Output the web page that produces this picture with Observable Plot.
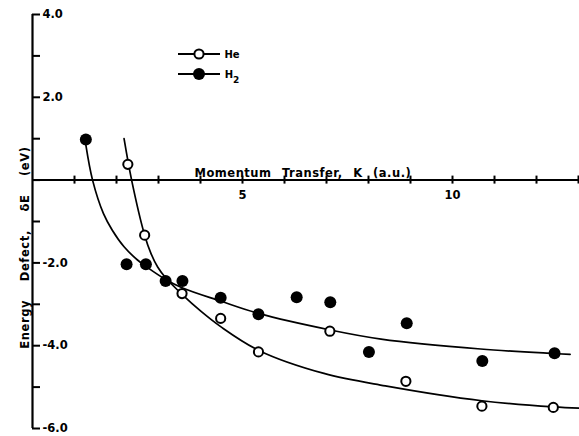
<!DOCTYPE html>
<html><head><meta charset="utf-8">
<script src="https://cdn.jsdelivr.net/npm/d3@7"></script>
<script src="https://cdn.jsdelivr.net/npm/@observablehq/plot@0.6"></script>
<style>
body{margin:0;background:#fff}
#chart{width:579px;height:436px}
svg text{font-family:"DejaVu Sans",sans-serif;font-weight:bold}
</style>
</head><body><div id="chart"></div>
<script>
// Measured points (K in a.u., energy defect in eV)
const heK  = [2.27, 2.67, 3.56, 4.48, 5.38, 7.08, 8.89, 10.70, 12.40];
const heDE = [0.38, -1.33, -2.74, -3.34, -4.15, -3.65, -4.86, -5.46, -5.49];
const h2K  = [1.27, 2.24, 2.70, 3.17, 3.57, 4.48, 5.38, 6.29, 7.09, 8.01, 8.91, 10.71, 12.43];
const h2DE = [0.98, -2.03, -2.03, -2.44, -2.44, -2.84, -3.24, -2.83, -2.95, -4.15, -3.46, -4.37, -4.18];
// Drawn smooth curves
const heCurveK  = [2.18, 2.36, 2.67, 2.82, 2.98, 3.17, 3.56, 4.0, 4.48, 5.4, 6.94, 8.4, 10.7, 12.4, 13.03];
const heCurveDE = [1.0, 0, -1.33, -1.77, -2.10, -2.36, -2.76, -3.16, -3.54, -4.12, -4.67, -4.97, -5.33, -5.48, -5.51];
const h2CurveK  = [1.27, 1.43, 1.69, 1.90, 2.18, 2.5, 2.75, 3.17, 3.56, 4.47, 5.38, 7.09, 8.3, 10.67, 12.42, 12.8];
const h2CurveDE = [0.85, 0, -0.81, -1.21, -1.61, -1.93, -2.12, -2.40, -2.60, -2.92, -3.22, -3.62, -3.84, -4.08, -4.19, -4.21];
// Axes
const xDomain = [0, 13];
const yDomain = [-6, 4];
const xTicks = d3.range(1, 14);
const xTickLabels = [5, 10];
const yTicks = d3.range(-6, 5);
const yTickLabels = [4, 2, -2, -4, -6];
const xTitle = "Momentum Transfer, K (a.u.)";
const yTitle = "Energy Defect, δE (eV)";
const seriesNames = ["He", "H"];

const he = heK.map((k, i) => ({k, de: heDE[i]}));
const h2 = h2K.map((k, i) => ({k, de: h2DE[i]}));
const heCurve = heCurveK.map((k, i) => ({k, de: heCurveDE[i]}));
const h2Curve = h2CurveK.map((k, i) => ({k, de: h2CurveDE[i]}));

const W = 579, H = 436, mL = 32, mR = 1, mT = 14, mB = 8;
const pxPerX = (W - mL - mR) / (xDomain[1] - xDomain[0]);
const pxPerY = (H - mT - mB) / (yDomain[1] - yDomain[0]);
const yTickLen = 8 / pxPerX;
const xTickHalf = 4 / pxPerY;

const chart = Plot.plot({
  width: W, height: H,
  marginLeft: mL, marginRight: mR, marginTop: mT, marginBottom: mB,
  style: {background: "#fff", color: "#000", overflow: "visible"},
  x: {domain: xDomain, axis: null},
  y: {domain: yDomain, axis: null},
  marks: [
    Plot.ruleX([0], {y1: yDomain[0], y2: yDomain[1], strokeWidth: 2.2}),
    Plot.ruleY([0], {x1: xDomain[0], x2: xDomain[1], strokeWidth: 2}),
    Plot.ruleY(yTicks, {y: d => d, x1: 0, x2: yTickLen, strokeWidth: 2}),
    Plot.ruleX(xTicks, {x: d => d, y1: -xTickHalf, y2: xTickHalf, strokeWidth: 2}),
    Plot.text(yTickLabels, {x: 0, y: d => d, text: d => d.toFixed(1), textAnchor: "start", dx: 10, fontSize: 11.5}),
    Plot.text(xTickLabels, {x: d => d, y: 0, text: d => String(d), dy: 15, fontSize: 11.5}),
    Plot.text([xTitle], {frameAnchor: "top-left", dx: 162, dy: 154, textAnchor: "start", fontSize: 11.5}),
    Plot.text([yTitle], {frameAnchor: "top-left", dx: -12, dy: 233, rotate: -90, textAnchor: "middle", fontSize: 11.5}),
    Plot.line(heCurve, {x: "k", y: "de", curve: "catmull-rom", strokeWidth: 1.7}),
    Plot.line(h2Curve, {x: "k", y: "de", curve: "catmull-rom", strokeWidth: 1.7}),
    Plot.dot(h2, {x: "k", y: "de", r: 6, fill: "#000"}),
    Plot.dot(he, {x: "k", y: "de", r: 4.6, fill: "#fff", stroke: "#000", strokeWidth: 2})
  ]
});

const svg = d3.select(chart);
// word / letter spacing for the hand-lettered titles
svg.selectAll("text").filter(function(){ return this.textContent === xTitle; })
  .style("word-spacing", "6px").style("letter-spacing", "0.5px");
svg.selectAll("text").filter(function(){ return this.textContent === yTitle; })
  .style("word-spacing", "14px").style("letter-spacing", "0.6px");

// Legend
const lg = svg.append("g").attr("class", "legend");
[0, 1].forEach(i => {
  const y = 54 + i * 20;
  lg.append("line").attr("x1", 178).attr("x2", 220).attr("y1", y).attr("y2", y)
    .attr("stroke", "#000").attr("stroke-width", 2);
  if (i === 0) {
    lg.append("circle").attr("cx", 199).attr("cy", y).attr("r", 4.6)
      .attr("fill", "#fff").attr("stroke", "#000").attr("stroke-width", 2);
  } else {
    lg.append("circle").attr("cx", 199).attr("cy", y).attr("r", 6).attr("fill", "#000");
  }
  const t = lg.append("text").attr("x", 232).attr("y", y + 4)
    .attr("font-size", 10).attr("fill", "#000").text(seriesNames[i]);
  if (i === 1) t.append("tspan").attr("dy", 5).attr("font-size", 9).text("2");
});

document.getElementById("chart").appendChild(chart);
</script>
</body></html>
